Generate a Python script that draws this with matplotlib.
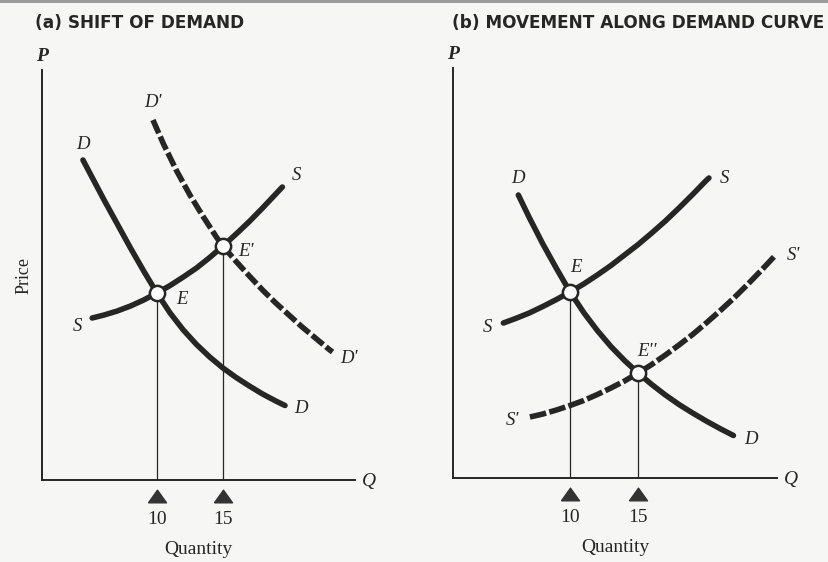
import matplotlib
matplotlib.use("Agg")
import matplotlib.pyplot as plt
from matplotlib.patches import Rectangle

# ---------------- data (Quantity, Price) ----------------
# Panel (a): shift of demand
a_D_q = [4.4, 5, 6, 7, 8, 9, 10, 11, 12, 13, 14, 15, 16, 17, 18, 19, 19.7]
a_D_p = [32.0, 30.5, 28.0, 25.6, 23.2, 20.9, 18.7, 16.7, 15.0, 13.55, 12.3, 11.2,
         10.25, 9.4, 8.6, 7.9, 7.45]
a_D2_q = [9.7, 10.5, 11.5, 12.5, 13.5, 14.5, 15, 16, 17, 18, 19, 20, 21, 22, 23, 23.3]
a_D2_p = [36.0, 33.6, 30.9, 28.5, 26.35, 24.3, 23.4, 21.85, 20.4, 19.0, 17.7, 16.5,
          15.3, 14.2, 13.1, 12.8]
a_S_q = [5.1, 6, 7, 8, 9, 10, 11, 12, 13, 14, 15, 16, 17, 18, 19, 19.5]
a_S_p = [16.2, 16.5, 16.9, 17.4, 18.0, 18.7, 19.45, 20.3, 21.2, 22.25, 23.4, 24.6,
         25.85, 27.2, 28.6, 29.3]
a_eq_q = [10, 15]
a_eq_p = [18.7, 23.4]
a_eq_names = ["E", "E'"]

# Panel (b): movement along demand curve
b_D_q = [6.2, 7, 8, 9, 10, 11, 12, 13, 14, 15, 16, 17, 18, 19, 20, 21, 22]
b_D_p = [28.3, 26.05, 23.4, 20.95, 18.6, 16.55, 14.75, 13.15, 11.75, 10.5, 9.35,
         8.3, 7.35, 6.5, 5.7, 4.95, 4.25]
b_S_q = [5.1, 6, 7, 8, 9, 10, 11, 12, 13, 14, 15, 16, 17, 18, 19, 20, 20.2]
b_S_p = [15.5, 15.95, 16.5, 17.15, 17.85, 18.6, 19.4, 20.3, 21.25, 22.3, 23.35,
         24.5, 25.7, 27.0, 28.35, 29.75, 30.0]
b_S2_q = [7.05, 8, 9, 10, 11, 12, 13, 14, 15, 16, 17, 18, 19, 20, 21, 22, 23, 24,
          25, 25.1]
b_S2_p = [6.1, 6.4, 6.8, 7.25, 7.75, 8.35, 9.0, 9.7, 10.5, 11.35, 12.3, 13.3,
          14.35, 15.5, 16.7, 17.95, 19.3, 20.7, 22.15, 22.3]
b_eq_q = [10, 15]
b_eq_p = [18.6, 10.5]
b_eq_names = ["E", "E''"]

tick_labels = ["10", "15"]
titles = ["(a) SHIFT OF DEMAND", "(b) MOVEMENT ALONG DEMAND CURVE"]

# ---------------- style ----------------
INK = "#262626"
BG = "#f6f6f4"
CURVE_LW = 4.0
SERIF = ["Liberation Serif", "DejaVu Serif"]

fig = plt.figure(figsize=(8.29, 5.62), dpi=100, facecolor=BG)
fig.add_artist(Rectangle((0, 0.994), 1, 0.006, transform=fig.transFigure,
                         color="#9a9a9a", lw=0))

W, H = 829.0, 562.0
axa = fig.add_axes([42 / W, (H - 480) / H, 313 / W, 410 / H])
axb = fig.add_axes([453 / W, (H - 478) / H, 324 / W, 410 / H])
axa.set_xlim(1.3, 25.0)
axb.set_xlim(1.4, 25.2)
for ax in (axa, axb):
    ax.set_ylim(0, 41)
    ax.set_facecolor("none")
    for s in ("top", "right"):
        ax.spines[s].set_visible(False)
    for s in ("left", "bottom"):
        ax.spines[s].set_color(INK)
        ax.spines[s].set_linewidth(1.4)
    ax.set_yticks([])


def label(ax, text, xy, off, size=13.5):
    ax.annotate(text, xy=xy, xytext=off, textcoords="offset points",
                ha="center", va="center", fontsize=size, style="italic",
                family=SERIF, color=INK, annotation_clip=False)


def curve(ax, q, p, dashed=False, dashes=(2.2, 0.75)):
    kw = dict(color=INK, lw=CURVE_LW, zorder=3, solid_capstyle="round",
              solid_joinstyle="round")
    if dashed:
        kw.update(dashes=dashes, dash_capstyle="butt", dash_joinstyle="round")
    ax.plot(q, p, **kw)


def equilibria(ax, eq_q, eq_p):
    for q, p in zip(eq_q, eq_p):
        ax.plot([q, q], [0, p], color=INK, lw=0.9, zorder=2)
    ax.plot(eq_q, eq_p, "o", ms=11, mfc="#fbfbfb", mec=INK, mew=1.8, zorder=5)
    tri = [(-1, -0.7), (1, -0.7), (0, 0.7), (-1, -0.7)]
    ax.plot(eq_q, [-1.6] * len(eq_q), ls="none", marker=tri, ms=13,
            color="#333333", clip_on=False)
    ax.set_xticks(eq_q)
    ax.set_xticklabels(tick_labels, family=SERIF, fontsize=14, color=INK)
    ax.tick_params(axis="x", length=0, pad=22)
    ax.set_xlabel("Quantity", family=SERIF, fontsize=14, color=INK, labelpad=10)
    ax.annotate("P", xy=(0, 1), xycoords="axes fraction", xytext=(0, 10),
                textcoords="offset points", ha="center", va="center",
                fontsize=14, style="italic", weight="bold", family=SERIF,
                color=INK, annotation_clip=False)
    ax.annotate("Q", xy=(1, 0), xycoords="axes fraction", xytext=(10, -1),
                textcoords="offset points", ha="center", va="center",
                fontsize=14, style="italic", family=SERIF, color=INK,
                annotation_clip=False)


# ---------------- panel (a) ----------------
curve(axa, a_D_q, a_D_p)
curve(axa, a_D2_q, a_D2_p, dashed=True, dashes=(2.6, 0.65))
curve(axa, a_S_q, a_S_p)
equilibria(axa, a_eq_q, a_eq_p)
label(axa, "D", (a_D_q[0], a_D_p[0]), (0, 11.2))
label(axa, "D", (a_D_q[-1], a_D_p[-1]), (11.2, -2.2))
label(axa, "D'", (a_D2_q[0], a_D2_p[0]), (0, 12.6))
label(axa, "D'", (a_D2_q[-1], a_D2_p[-1]), (12, -5))
label(axa, "S", (a_S_q[0], a_S_p[0]), (-10.5, -5.8))
label(axa, "S", (a_S_q[-1], a_S_p[-1]), (9.8, 8.2))
label(axa, a_eq_names[0], (a_eq_q[0], a_eq_p[0]), (18, -5))
label(axa, a_eq_names[1], (a_eq_q[1], a_eq_p[1]), (16.6, -4.3))
axa.set_ylabel("Price", family=SERIF, fontsize=13, color=INK, labelpad=7)

# ---------------- panel (b) ----------------
curve(axb, b_D_q, b_D_p)
curve(axb, b_S_q, b_S_p)
curve(axb, b_S2_q, b_S2_p, dashed=True, dashes=(3.0, 0.6))
equilibria(axb, b_eq_q, b_eq_p)
label(axb, "D", (b_D_q[0], b_D_p[0]), (0, 12))
label(axb, "D", (b_D_q[-1], b_D_p[-1]), (12.5, -2.9))
label(axb, "S", (b_S_q[0], b_S_p[0]), (-11.2, -3.6))
label(axb, "S", (b_S_q[-1], b_S_p[-1]), (11, 0))
label(axb, "S'", (b_S2_q[0], b_S2_p[0]), (-12.6, -2.2))
label(axb, "S'", (b_S2_q[-1], b_S2_p[-1]), (12.6, 0))
label(axb, b_eq_names[0], (b_eq_q[0], b_eq_p[0]), (4.3, 17.5))
label(axb, b_eq_names[1], (b_eq_q[1], b_eq_p[1]), (6.5, 15.3))

# ---------------- titles ----------------
fig.text(35 / W, 1 - 23 / H, titles[0], ha="left", va="center",
         fontsize=12.2, weight="bold", family="DejaVu Sans", color=INK)
fig.text(452 / W, 1 - 23 / H, titles[1], ha="left", va="center",
         fontsize=12.2, weight="bold", family="DejaVu Sans", color=INK)

fig.savefig("out.png", dpi=100, facecolor=BG)
